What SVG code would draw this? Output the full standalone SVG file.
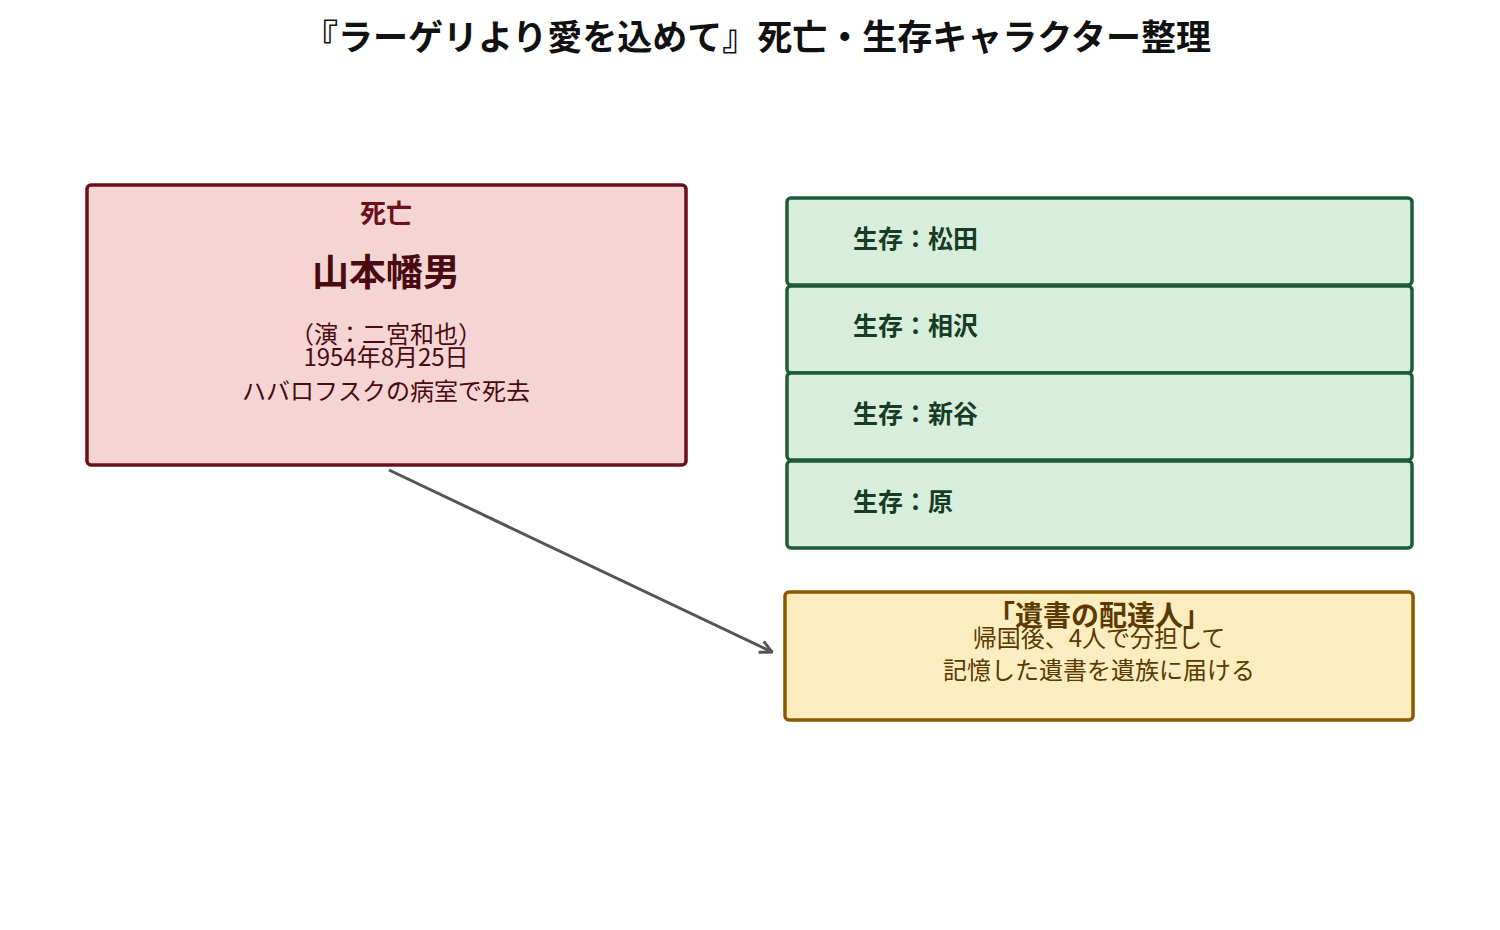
<svg xmlns="http://www.w3.org/2000/svg" width="1500" height="930" viewBox="0 0 1500 930">
<style>
text{font-family:"Noto Sans CJK JP","Noto Sans",sans-serif;text-anchor:middle}
.g rect{fill:#d8eedc;stroke:#1e5b3a;stroke-width:3.5}
.g text{fill:#163d24;font-weight:bold;font-size:25px;text-anchor:start}
</style>
<defs><marker id="a" viewBox="0 0 10 10" refX="9" refY="5" markerWidth="5" markerHeight="5" orient="auto" markerUnits="strokeWidth"><path d="M1,1L9,5L1,9" fill="none" stroke="#555" stroke-width="2"/></marker></defs>
<rect width="1500" height="930" fill="#fff"/>
<text x="757" y="50" font-size="35" font-weight="bold" fill="#111">『ラーゲリより愛を込めて』死亡・生存キャラクター整理</text>
<g id="dead"><rect x="87" y="185" width="599" height="280" rx="4" fill="#f5d4d4" stroke="#6b0f1a" stroke-width="3.5"/>
<text x="386" y="223" font-size="26" font-weight="bold" fill="#6b0f1a">死亡</text>
<text x="386" y="286" font-size="37" font-weight="bold" fill="#4a0a10">山本幡男</text>
<text x="386" y="343" font-size="24" fill="#4a0a10">（演：二宮和也）</text>
<text x="386" y="366" font-size="24" fill="#4a0a10">1954年8月25日</text>
<text x="386" y="400" font-size="24" fill="#4a0a10">ハバロフスクの病室で死去</text></g>
<g id="s1" class="g"><rect x="787" y="198" width="625" height="87" rx="4"/><text x="853" y="248">生存：松田</text></g>
<g id="s2" class="g"><rect x="787" y="286" width="625" height="87" rx="4"/><text x="853" y="335">生存：相沢</text></g>
<g id="s3" class="g"><rect x="787" y="373" width="625" height="87" rx="4"/><text x="853" y="423">生存：新谷</text></g>
<g id="s4" class="g"><rect x="787" y="461" width="625" height="87" rx="4"/><text x="853" y="511">生存：原</text></g>
<g id="msg"><rect x="785" y="592" width="628" height="128" rx="4" fill="#fcedc0" stroke="#8a5a00" stroke-width="3.5"/>
<text x="1099" y="626" font-size="28" font-weight="bold" fill="#5a3a00">「遺書の配達人」</text>
<text x="1099" y="647" font-size="24" fill="#5a3a00">帰国後、4人で分担して</text>
<text x="1099" y="679" font-size="24" fill="#5a3a00">記憶した遺書を遺族に届ける</text></g>
<g id="edges"><line x1="389" y1="470" x2="772" y2="652" stroke="#555" stroke-width="3" marker-end="url(#a)"/></g>
</svg>
